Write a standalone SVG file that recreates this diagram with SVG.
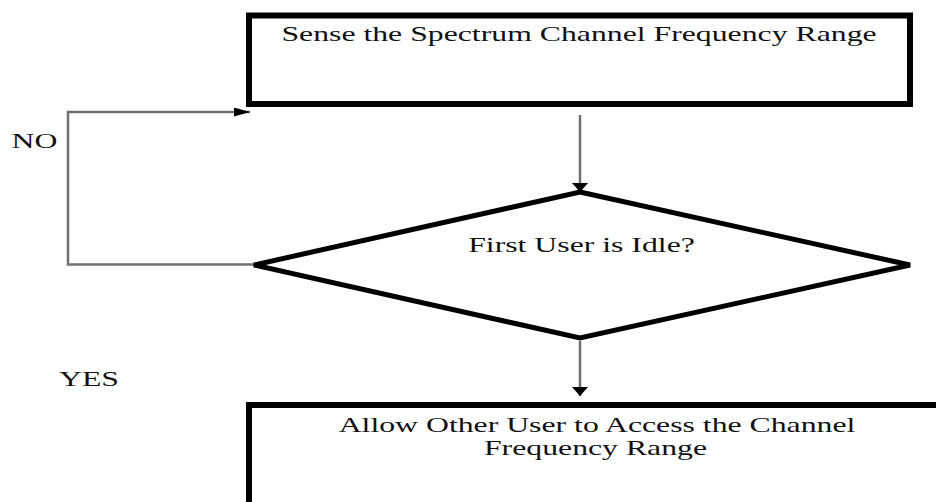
<svg xmlns="http://www.w3.org/2000/svg" width="936" height="502" viewBox="0 0 936 502">
<style>
.box{fill:#fff;stroke:#000;stroke-width:6}
.dia{fill:#fff;stroke:#000;stroke-width:5;stroke-linejoin:miter}
.conn{fill:none;stroke:#707070;stroke-width:2.5}
.t{font-family:"Liberation Serif","Times New Roman",serif;font-size:20.5px;fill:#111;text-anchor:middle}
</style>
<defs>
<marker id="ahV" viewBox="0 0 9 16" refX="9" refY="8" markerWidth="9" markerHeight="16" markerUnits="userSpaceOnUse" orient="auto" preserveAspectRatio="none">
<path d="M0,0 L9,8 L0,16 z" fill="#000"/>
</marker>
<marker id="ahH" viewBox="0 0 16 9" refX="16" refY="4.5" markerWidth="16" markerHeight="9" markerUnits="userSpaceOnUse" orient="auto" preserveAspectRatio="none">
<path d="M0,0 L16,4.5 L0,9 z" fill="#000"/>
</marker>
</defs>
<rect width="936" height="502" fill="#fff"/>
<g id="connectors">
<line class="conn" x1="580" y1="115" x2="580" y2="192" marker-end="url(#ahV)"/>
<line class="conn" x1="580" y1="341" x2="580" y2="396" marker-end="url(#ahV)"/>
<polyline class="conn" points="256,264.5 68,264.5 68,112 250,112" marker-end="url(#ahH)"/>
</g>
<g id="sense">
<rect class="box" x="249" y="15.5" width="661" height="88.5"/>
<text class="t" transform="translate(579,41) scale(1.55,1)">Sense the Spectrum Channel Frequency Range</text>
</g>
<g id="decision">
<polygon class="dia" points="580,192 910,265 580,338 254,265"/>
<text class="t" transform="translate(581.5,251.5) scale(1.55,1)">First User is Idle?</text>
</g>
<g id="allow">
<rect class="box" x="249" y="405" width="720" height="120"/>
<text class="t" transform="translate(597,432) scale(1.55,1)">Allow Other User to Access the Channel</text>
<text class="t" transform="translate(595.5,455) scale(1.55,1)">Frequency Range</text>
</g>
<g id="labels">
<text class="t" transform="translate(34.5,148) scale(1.55,1)">NO</text>
<text class="t" transform="translate(89,386) scale(1.55,1)">YES</text>
</g>
</svg>
